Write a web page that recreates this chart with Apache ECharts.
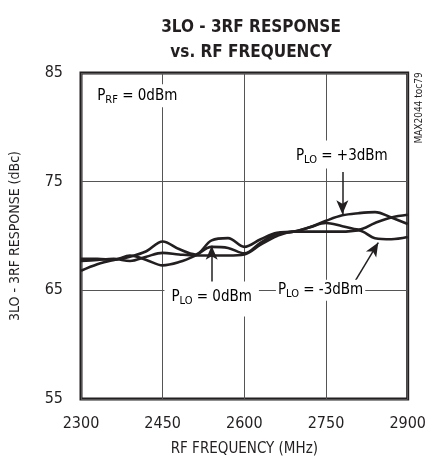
<!DOCTYPE html>
<html>
<head>
<meta charset="utf-8">
<script src="https://cdn.jsdelivr.net/npm/echarts@6/dist/echarts.min.js"></script>
<style>
  html, body { margin: 0; padding: 0; background: #fff; }
  #main { width: 429px; height: 462px; }
</style>
</head>
<body>
<div id="main"></div>
<script>
var FONT = '"DejaVu Sans Condensed", "Liberation Sans Narrow", sans-serif';
var INK = '#231f20';

// frequency points (MHz)
var freqs = [2300, 2330, 2360, 2390, 2420, 2450, 2480, 2510, 2540, 2570, 2600,
             2630, 2660, 2690, 2720, 2750, 2780, 2810, 2840, 2870, 2900];
// 3LO-3RF response (dBc)
var plo_p3 = [66.8, 67.4, 67.8, 68.1, 68.6, 69.5, 68.8, 68.3, 69.6, 69.8, 69.0,
              69.7, 70.3, 70.4, 70.8, 71.4, 71.9, 72.1, 72.2, 71.7, 71.1];
var plo_0  = [67.9, 67.9, 67.8, 68.2, 67.8, 67.3, 67.6, 68.2, 69.0, 68.9, 68.4,
              69.4, 70.2, 70.4, 70.8, 71.2, 70.9, 70.6, 71.2, 71.7, 71.95];
var plo_m3 = [67.7, 67.8, 67.9, 67.7, 68.1, 68.45, 68.3, 68.2, 68.2, 68.2, 68.3,
              69.2, 70.0, 70.4, 70.4, 70.4, 70.4, 70.5, 69.8, 69.7, 69.9];

var xTicks = [2300, 2450, 2600, 2750, 2900];
var yTicks = [55, 65, 75, 85];

function pairs(ys) {
  var out = [];
  for (var i = 0; i < freqs.length; i++) out.push([freqs[i], ys[i]]);
  return out;
}

function curve(name, ys) {
  return {
    name: name,
    type: 'line',
    smooth: 0.35,
    showSymbol: false,
    symbol: 'none',
    lineStyle: { color: INK, width: 2.6 },
    data: pairs(ys),
    z: 3
  };
}

// arrows (data coords): from -> to
var arrows = [
  [[2780, 75.9], [2780, 72.0]],
  [[2540, 65.1], [2540, 69.1]],
  [[2804, 65.9], [2846, 69.4]]
];

var myChart = echarts.init(document.getElementById('main'));

var option = {
  animation: false,
  backgroundColor: '#fff',
  title: {
    text: '3LO - 3RF RESPONSE\nvs. RF FREQUENCY',
    left: 246,
    top: 10,
    textAlign: 'center',
    textStyle: {
      fontFamily: FONT, fontWeight: 'bold', fontSize: 17, color: INK, lineHeight: 25
    }
  },
  grid: {
    left: 81, right: 16, top: 73, bottom: 59,
    show: true, borderColor: INK, borderWidth: 3, backgroundColor: 'transparent'
  },
  xAxis: {
    type: 'value',
    min: 2300, max: 2900, interval: 150,
    name: 'RF FREQUENCY (MHz)',
    nameLocation: 'middle',
    nameGap: 43,
    nameTextStyle: { fontFamily: FONT, fontSize: 15, color: INK },
    axisLine: { show: false },
    axisTick: { show: false },
    axisLabel: {
      fontFamily: FONT, fontSize: 16, color: INK, margin: 17,
      formatter: function (v) { return String(v); }
    },
    splitLine: { show: true, lineStyle: { color: '#555', width: 1 } }
  },
  yAxis: {
    type: 'value',
    min: 55, max: 85, interval: 10,
    name: '3LO - 3RF RESPONSE (dBc)',
    nameLocation: 'middle',
    nameGap: 59,
    nameTextStyle: { fontFamily: FONT, fontSize: 14, color: INK },
    axisLine: { show: false },
    axisTick: { show: false },
    axisLabel: {
      fontFamily: FONT, fontSize: 16, color: INK, margin: 18,
      formatter: function (v) { return String(v); }
    },
    splitLine: { show: true, lineStyle: { color: '#555', width: 1 } }
  },
  series: [
    curve('PLO = +3dBm', plo_p3),
    curve('PLO = 0dBm', plo_0),
    curve('PLO = -3dBm', plo_m3),
    {
      type: 'line',
      data: [],
      silent: true,
      markLine: {
        silent: true,
        symbol: ['none', 'arrow'],
        symbolSize: [9, 14],
        label: { show: false },
        lineStyle: { color: INK, width: 1.5, type: 'solid' },
        data: arrows.map(function (a) {
          return [{ coord: a[0] }, { coord: a[1] }];
        })
      }
    }
  ]
};

myChart.setOption(option);

// text labels placed through the axes
var rich = {
  p: { fontFamily: FONT, fontSize: 15, color: INK },
  s: { fontFamily: FONT, fontSize: 11, color: INK, padding: [8, 0, 0, 0] }
};

function tag(sub, rest, at, align, pad) {
  var px = myChart.convertToPixel({ gridIndex: 0 }, at);
  return {
    type: 'text',
    x: px[0], y: px[1],
    z: 10,
    style: {
      text: '{p|P}{s|' + sub + '}{p|' + rest + '}',
      rich: rich,
      align: align,
      verticalAlign: 'middle',
      backgroundColor: '#fff',
      padding: pad
    }
  };
}

myChart.setOption({
  graphic: [
    tag('RF', ' = 0dBm', [2326, 82.9], 'left', [2, 2]),
    tag('LO', ' = +3dBm', [2779, 77.5], 'center', [6, 3, 3, 3]),
    tag('LO', ' = 0dBm', [2540, 64.2], 'center', [6, 7, 10, 7]),
    tag('LO', ' = -3dBm', [2740, 65.0], 'center', [1, 2, 1, 2]),
    {
      type: 'text',
      x: 419, y: 108,
      rotation: Math.PI / 2,
      z: 10,
      style: {
        text: 'MAX2044 toc79',
        fontFamily: FONT, fontSize: 10, fill: INK,
        align: 'center', verticalAlign: 'middle'
      }
    }
  ]
});
</script>
</body>
</html>
